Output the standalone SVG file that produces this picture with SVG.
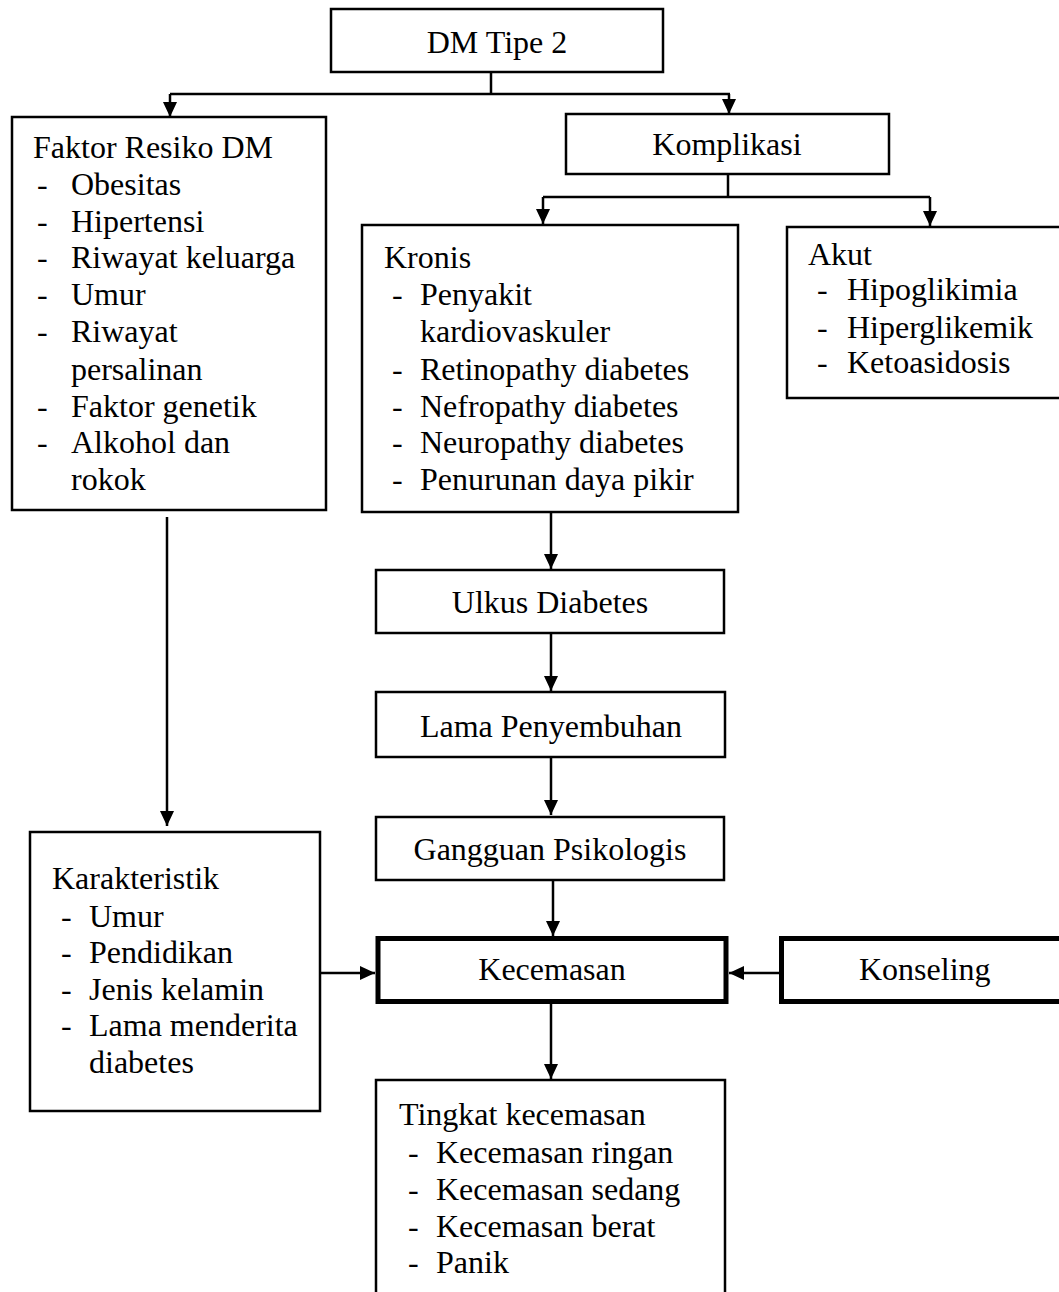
<svg xmlns="http://www.w3.org/2000/svg" width="1059" height="1292" viewBox="0 0 1059 1292">
<style>
.box{fill:#fff;stroke:#000;stroke-width:2.5}
.thick{fill:#fff;stroke:#000;stroke-width:5}
.t{font-family:"Liberation Serif","Times New Roman",serif;font-size:32px;fill:#000}
.c{text-anchor:middle}
.ln{fill:none;stroke:#000;stroke-width:2.5}
</style>
<defs>
<marker id="ah" markerUnits="userSpaceOnUse" markerWidth="15" markerHeight="14" refX="15" refY="7" orient="auto">
<path d="M0,0 L15,7 L0,14 z" fill="#000"/>
</marker>
</defs>
<rect width="1059" height="1292" fill="#fff"/>

<g id="connectors">
<path class="ln" d="M491,72 V94"/>
<path class="ln" d="M170,94 H730"/>
<path class="ln" d="M170,94 V117" marker-end="url(#ah)"/>
<path class="ln" d="M729,94 V114" marker-end="url(#ah)"/>
<path class="ln" d="M728,174 V197"/>
<path class="ln" d="M543,197 H930"/>
<path class="ln" d="M543,197 V224" marker-end="url(#ah)"/>
<path class="ln" d="M930,197 V226" marker-end="url(#ah)"/>
<path class="ln" d="M167,517 V826" marker-end="url(#ah)"/>
<path class="ln" d="M551,512 V569" marker-end="url(#ah)"/>
<path class="ln" d="M551,633 V691" marker-end="url(#ah)"/>
<path class="ln" d="M551,757 V815" marker-end="url(#ah)"/>
<path class="ln" d="M553,880 V936" marker-end="url(#ah)"/>
<path class="ln" d="M320,973 H375" marker-end="url(#ah)"/>
<path class="ln" d="M779,973 H729" marker-end="url(#ah)"/>
<path class="ln" d="M551,1004 V1079" marker-end="url(#ah)"/>
</g>

<g id="dm-tipe-2">
<rect class="box" x="331" y="9" width="332" height="63"/>
<text class="t c" x="497" y="53">DM Tipe 2</text>
</g>

<g id="faktor-resiko">
<rect class="box" x="12" y="117" width="314" height="393"/>
<text class="t" x="33" y="158">Faktor Resiko DM</text>
<text class="t" x="37" y="195">-</text><text class="t" x="71" y="195">Obesitas</text>
<text class="t" x="37" y="232">-</text><text class="t" x="71" y="232">Hipertensi</text>
<text class="t" x="37" y="268">-</text><text class="t" x="71" y="268">Riwayat keluarga</text>
<text class="t" x="37" y="305">-</text><text class="t" x="71" y="305">Umur</text>
<text class="t" x="37" y="342">-</text><text class="t" x="71" y="342">Riwayat</text>
<text class="t" x="71" y="380">persalinan</text>
<text class="t" x="37" y="417">-</text><text class="t" x="71" y="417">Faktor genetik</text>
<text class="t" x="37" y="453">-</text><text class="t" x="71" y="453">Alkohol dan</text>
<text class="t" x="71" y="490">rokok</text>
</g>

<g id="komplikasi">
<rect class="box" x="566" y="114" width="323" height="60"/>
<text class="t c" x="727" y="155">Komplikasi</text>
</g>

<g id="kronis">
<rect class="box" x="362" y="225" width="376" height="287"/>
<text class="t" x="384" y="268">Kronis</text>
<text class="t" x="392" y="305">-</text><text class="t" x="420" y="305">Penyakit</text>
<text class="t" x="420" y="342">kardiovaskuler</text>
<text class="t" x="392" y="380">-</text><text class="t" x="420" y="380">Retinopathy diabetes</text>
<text class="t" x="392" y="417">-</text><text class="t" x="420" y="417">Nefropathy diabetes</text>
<text class="t" x="392" y="453">-</text><text class="t" x="420" y="453">Neuropathy diabetes</text>
<text class="t" x="392" y="490">-</text><text class="t" x="420" y="490">Penurunan daya pikir</text>
</g>

<g id="akut">
<rect class="box" x="787" y="227" width="290" height="171"/>
<text class="t" x="808" y="265">Akut</text>
<text class="t" x="817" y="300">-</text><text class="t" x="847" y="300">Hipoglikimia</text>
<text class="t" x="817" y="338">-</text><text class="t" x="847" y="338">Hiperglikemik</text>
<text class="t" x="817" y="373">-</text><text class="t" x="847" y="373">Ketoasidosis</text>
</g>

<g id="ulkus">
<rect class="box" x="376" y="570" width="348" height="63"/>
<text class="t c" x="550" y="613">Ulkus Diabetes</text>
</g>

<g id="lama-penyembuhan">
<rect class="box" x="376" y="692" width="349" height="65"/>
<text class="t c" x="551" y="737">Lama Penyembuhan</text>
</g>

<g id="gangguan">
<rect class="box" x="376" y="817" width="348" height="63"/>
<text class="t c" x="550" y="860">Gangguan Psikologis</text>
</g>

<g id="karakteristik">
<rect class="box" x="30" y="832" width="290" height="279"/>
<text class="t" x="52" y="889">Karakteristik</text>
<text class="t" x="61" y="927">-</text><text class="t" x="89" y="927">Umur</text>
<text class="t" x="61" y="963">-</text><text class="t" x="89" y="963">Pendidikan</text>
<text class="t" x="61" y="1000">-</text><text class="t" x="89" y="1000">Jenis kelamin</text>
<text class="t" x="61" y="1036">-</text><text class="t" x="89" y="1036">Lama menderita</text>
<text class="t" x="89" y="1073">diabetes</text>
</g>

<g id="kecemasan">
<rect class="thick" x="378" y="938.5" width="348" height="63"/>
<text class="t c" x="552" y="980">Kecemasan</text>
</g>

<g id="konseling">
<rect class="thick" x="781.5" y="938.5" width="300" height="63"/>
<text class="t" x="859" y="980">Konseling</text>
</g>

<g id="tingkat-kecemasan">
<rect class="box" x="376" y="1080" width="349" height="240"/>
<text class="t" x="399" y="1125">Tingkat kecemasan</text>
<text class="t" x="408" y="1163">-</text><text class="t" x="436" y="1163">Kecemasan ringan</text>
<text class="t" x="408" y="1200">-</text><text class="t" x="436" y="1200">Kecemasan sedang</text>
<text class="t" x="408" y="1237">-</text><text class="t" x="436" y="1237">Kecemasan berat</text>
<text class="t" x="408" y="1273">-</text><text class="t" x="436" y="1273">Panik</text>
</g>
</svg>
